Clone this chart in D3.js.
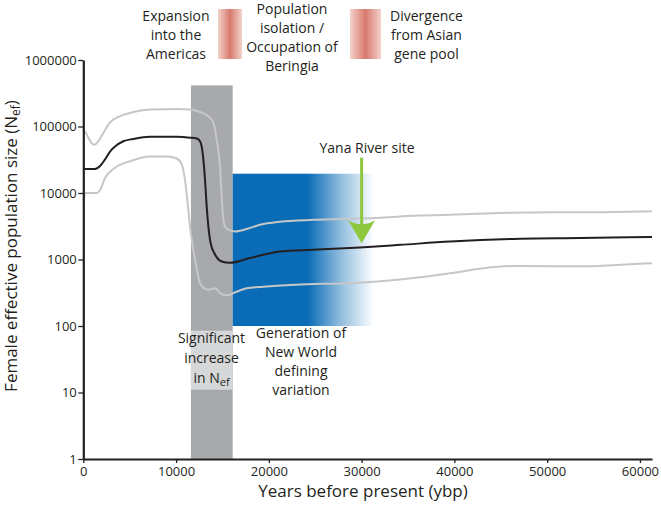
<!DOCTYPE html>
<html><head><meta charset="utf-8">
<script src="https://cdn.jsdelivr.net/npm/d3@7"></script>
<style>
body{margin:0;background:#fff}
text{font-family:"Open Sans",sans-serif;fill:#231f20}
</style>
</head><body>
<svg id="c" width="661" height="505"></svg>
<script>
// ---------- data ----------
const xTicks = [0, 10000, 20000, 30000, 40000, 50000, 60000];
const xMinorTicks = [5000, 15000, 25000, 35000, 45000, 55000];
const yTicks = [1, 10, 100, 1000, 10000, 100000, 1000000];

const medianYears = [0, 1260, 1800, 2340, 2880, 3420, 4310, 5390, 7190, 10070, 11500, 12220, 12580, 12760, 12940, 13120, 13300, 13480, 13730, 14200, 14920, 15810, 17970, 21200, 24760, 29830, 34140, 39530, 47080, 53550, 61300];
const medianNe = [23000, 23000, 25500, 32000, 42000, 50000, 60000, 65000, 70000, 70000, 68000, 66000, 60000, 50000, 32000, 15800, 6300, 3150, 1750, 1190, 935, 890, 1050, 1320, 1400, 1520, 1660, 1860, 2050, 2100, 2180];

const upperYears = [0, 370, 900, 1190, 1620, 2160, 2880, 3960, 5390, 7190, 10070, 11500, 12580, 13480, 14010, 14380, 14740, 14920, 15090, 15380, 16000, 16350, 17610, 19050, 21200, 24790, 28390, 31450, 34140, 39530, 44920, 50310, 55700, 61300];
const upperNe = [92000, 76000, 56000, 53000, 60000, 80000, 115000, 143000, 165000, 180000, 183000, 180000, 165000, 143000, 115000, 63000, 25000, 8800, 3950, 2970, 2700, 2640, 2870, 3330, 3700, 3950, 4100, 4200, 4450, 4700, 5000, 5150, 5150, 5300];

const lowerYears = [0, 250, 1440, 1800, 2340, 3420, 5030, 7190, 8990, 10070, 10610, 10960, 11250, 11500, 11860, 12220, 12580, 13010, 13480, 14200, 14920, 15630, 16170, 17610, 19400, 22280, 25870, 28750, 34140, 39530, 43120, 46720, 53900, 57500, 61300];
const lowerNe = [7500, 10000, 10000, 11000, 16700, 24000, 30000, 35500, 35500, 33000, 27000, 15800, 7000, 3150, 1400, 735, 440, 370, 350, 370, 300, 290, 312, 370, 390, 415, 430, 440, 500, 620, 740, 800, 790, 830, 880];

const greyBand = [11600, 16100];          // years
const greyBandTop = 415000;               // Ne
const lightBox = [11, 85];                // Ne range of label box
const blueBand = [16100, 31300];          // years
const blueSolidUntil = 24200;             // years
const blueRange = [100, 19500];           // Ne
const yanaYear = 30000, yanaTop = 34000, yanaTip = 1750;

const headerTexts = [
  ["Expansion", "into the", "Americas"],
  ["Population", "isolation /", "Occupation of", "Beringia"],
  ["Divergence", "from Asian", "gene pool"]
];

// ---------- chart ----------
const svg = d3.select("#c");
const x = d3.scaleLinear().domain([0, 61300]).range([83.3, 652]);
const y = d3.scaleLog().domain([1, 1e6]).range([459, 60]);
const ink = "#231f20";

const defs = svg.append("defs");
const bg = defs.append("linearGradient").attr("id", "blueFade").attr("x1", 0).attr("x2", 1).attr("y1", 0).attr("y2", 0);
const sOff = (blueSolidUntil - blueBand[0]) / (blueBand[1] - blueBand[0]);
bg.append("stop").attr("offset", 0).attr("stop-color", "#0a6cb6");
bg.append("stop").attr("offset", sOff).attr("stop-color", "#0a6cb6");
bg.append("stop").attr("offset", sOff + (1 - sOff) * 0.5).attr("stop-color", "#0a6cb6").attr("stop-opacity", 0.45);
bg.append("stop").attr("offset", 1).attr("stop-color", "#0a6cb6").attr("stop-opacity", 0);

const rg = defs.append("linearGradient").attr("id", "redBar").attr("x1", 0).attr("x2", 1).attr("y1", 0).attr("y2", 0);
rg.append("stop").attr("offset", 0).attr("stop-color", "#f3d2ca");
rg.append("stop").attr("offset", 0.5).attr("stop-color", "#d8796d");
rg.append("stop").attr("offset", 1).attr("stop-color", "#f3d2ca");

// grey band
svg.append("rect").attr("x", x(greyBand[0])).attr("width", x(greyBand[1]) - x(greyBand[0]))
  .attr("y", y(greyBandTop)).attr("height", y(1) - y(greyBandTop)).attr("fill", "#a7a9ac");
svg.append("rect").attr("x", x(greyBand[0])).attr("width", x(greyBand[1]) - x(greyBand[0]))
  .attr("y", y(lightBox[1])).attr("height", y(lightBox[0]) - y(lightBox[1])).attr("fill", "#d6d7d9");

// blue band
svg.append("rect").attr("x", x(blueBand[0])).attr("width", x(blueBand[1]) - x(blueBand[0]))
  .attr("y", y(blueRange[1])).attr("height", y(blueRange[0]) - y(blueRange[1])).attr("fill", "url(#blueFade)");

// lines
const line = d3.line().x(d => x(d[0])).y(d => y(d[1])).curve(d3.curveMonotoneX);
const zip = (a, b) => a.map((v, i) => [v, b[i]]);
svg.append("path").attr("d", line(zip(upperYears, upperNe))).attr("fill", "none").attr("stroke", "#c6c7c9").attr("stroke-width", 2);
svg.append("path").attr("d", line(zip(lowerYears, lowerNe))).attr("fill", "none").attr("stroke", "#c6c7c9").attr("stroke-width", 2);
svg.append("path").attr("d", line(zip(medianYears, medianNe))).attr("fill", "none").attr("stroke", ink).attr("stroke-width", 2);

// axes
const yMinor = [];
yTicks.slice(0, -1).forEach(t => { for (let k = 2; k <= 9; k++) yMinor.push(t * k); });
const gy = svg.append("g").attr("transform", `translate(${x(0)},0)`);
gy.call(d3.axisLeft(y).tickValues(yMinor).tickSize(3).tickSizeOuter(0).tickFormat(""));
gy.call(d3.axisLeft(y).tickValues(yTicks).tickSize(5).tickSizeOuter(0).tickPadding(1.5).tickFormat(d3.format("d")));
gy.selectAll("text").style("font-size", "13px").attr("fill", ink).attr("font-family", null);
gy.selectAll("line").attr("stroke", ink).attr("stroke-width", 1.3);
gy.select(".domain").attr("stroke", ink).attr("stroke-width", 2.2);

const gx = svg.append("g").attr("transform", `translate(0,${y(1)})`);
gx.call(d3.axisBottom(x).tickValues(xMinorTicks).tickSize(4).tickSizeOuter(0).tickFormat(""));
gx.call(d3.axisBottom(x).tickValues(xTicks).tickSize(4).tickSizeOuter(0).tickPadding(4).tickFormat(d3.format("d")));
gx.selectAll("text").style("font-size", "13px").attr("fill", ink).attr("font-family", null);
gx.selectAll("line").attr("stroke", ink).attr("stroke-width", 1.3);
gx.select(".domain").attr("stroke", ink).attr("stroke-width", 2.2);

// axis titles
svg.append("text").attr("x", 363).attr("y", 497).attr("text-anchor", "middle").style("font-size", "17px")
  .text("Years before present (ybp)");
const yt = svg.append("text").attr("transform", "translate(17,246) rotate(-90)").attr("text-anchor", "middle").style("font-size", "17px");
yt.append("tspan").text("Female effective population size (N");
yt.append("tspan").attr("baseline-shift", "-25%").style("font-size", "12px").text("ef");
yt.append("tspan").text(")");

// labels in plot
const sig = svg.append("text").attr("text-anchor", "middle").style("font-size", "14px");
sig.append("tspan").attr("x", 211.5).attr("y", 343).text("Significant");
sig.append("tspan").attr("x", 211.5).attr("y", 363).text("increase");
sig.append("tspan").attr("x", 211.5).attr("y", 383).text("in N");
sig.append("tspan").attr("baseline-shift", "-25%").style("font-size", "11px").text("ef");

const gen = ["Generation of", "New World", "defining", "variation"];
svg.append("text").attr("text-anchor", "middle").style("font-size", "14px")
  .selectAll("tspan").data(gen).join("tspan").attr("x", 301).attr("y", (d, i) => 338 + i * 19).text(d => d);

// Yana River arrow
const ax = x(yanaYear);
svg.append("line").attr("x1", ax).attr("x2", ax).attr("y1", y(yanaTop)).attr("y2", y(yanaTip) - 18)
  .attr("stroke", "#8dc63f").attr("stroke-width", 3);
const tipY = y(yanaTip);
svg.append("path").attr("d", `M${ax},${tipY} L${ax - 13.5},${tipY - 23} Q${ax},${tipY - 15} ${ax + 13.5},${tipY - 23} Z`).attr("fill", "#8dc63f");
svg.append("text").attr("x", 367).attr("y", 152.5).attr("text-anchor", "middle").style("font-size", "14px").text("Yana River site");

// header
const hdr = [
  {cx: 176, y0: 20.7, dy: 19.2},
  {cx: 292, y0: 14, dy: 18.9},
  {cx: 426.5, y0: 20.7, dy: 19.2}
];
headerTexts.forEach((lines, k) => {
  svg.append("text").attr("text-anchor", "middle").style("font-size", "14px")
    .selectAll("tspan").data(lines).join("tspan").attr("x", hdr[k].cx).attr("y", (d, i) => hdr[k].y0 + i * hdr[k].dy).text(d => d);
});
svg.append("rect").attr("x", 218).attr("y", 9).attr("width", 24).attr("height", 50).attr("fill", "url(#redBar)");
svg.append("rect").attr("x", 350).attr("y", 9).attr("width", 31).attr("height", 50).attr("fill", "url(#redBar)");
</script>
</body></html>
